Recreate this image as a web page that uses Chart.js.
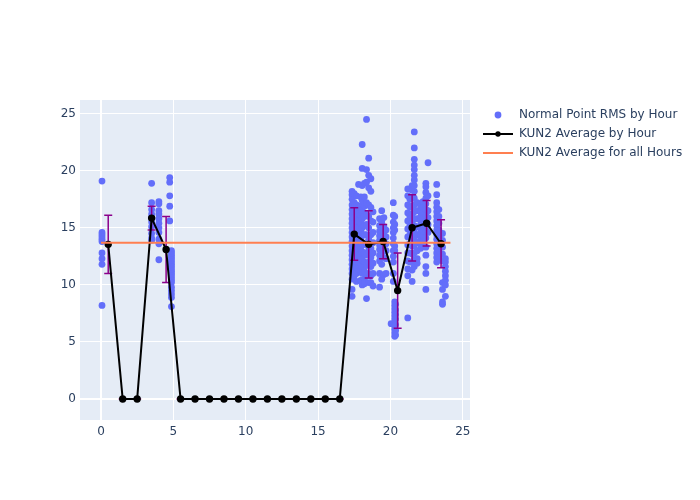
<!DOCTYPE html>
<html>
<head>
<meta charset="utf-8">
<script src="https://cdn.jsdelivr.net/npm/chart.js@4.4.1/dist/chart.umd.min.js"></script>
<style>
  body { margin: 0; background: #fff; }
  #wrap { position: relative; width: 700px; height: 500px; }
  #legend { position: absolute; left: 480px; top: 105px; font-family: "DejaVu Sans", sans-serif; font-size: 12px; color: #2a3f5f; }
  .item { position: relative; height: 19px; line-height: 19px; padding-left: 39px; white-space: nowrap; }
  .sym { position: absolute; left: 0; top: 0; width: 36px; height: 19px; }
</style>
</head>
<body>
<div id="wrap">
  <canvas id="myChart" width="700" height="500"></canvas>
  <div id="legend">
    <div class="item"><canvas class="sym" width="36" height="19" id="s1"></canvas>Normal Point RMS by Hour</div>
    <div class="item"><canvas class="sym" width="36" height="19" id="s2"></canvas>KUN2 Average by Hour</div>
    <div class="item"><canvas class="sym" width="36" height="19" id="s3"></canvas>KUN2 Average for all Hours</div>
  </div>
</div>
<script>
// normal point RMS, one column per entry: [hour, rms values...]
const rmsHour0 = [
    [0.07, 19.1, 14.6, 14.4, 14.2, 14.0, 13.8, 12.8, 12.3, 11.8, 8.2]
];
const rmsHour3 = [
    [3.5, 18.9, 17.2, 16.6, 16.2, 15.9, 15.5, 15.1, 14.5, 14.1, 13.9],
    [4.0, 17.3, 17.1, 16.5, 16.2, 15.8, 15.4, 15.0, 14.6, 14.0, 13.6, 12.2]
];
const rmsHour4 = [
    [4.75, 19.4, 19.0, 17.8, 16.9, 15.6],
    [4.87, 13.0, 12.8, 12.6, 12.4, 12.2, 12.0, 11.8, 11.6, 11.4, 11.2, 11.0, 10.8, 10.6, 10.4, 10.2, 9.8, 9.5, 9.2, 8.9, 8.1]
];
const rmsHour17 = [
    [17.35, 18.2, 17.9, 17.5, 17.0, 16.6, 16.2, 15.8, 15.4, 15.0, 14.6, 14.2, 13.8, 13.4, 13.0, 12.6, 12.2, 11.8, 11.4, 11.0, 10.5, 9.6, 9.0],
    [17.5, 18.0, 17.2, 16.4, 15.9, 15.3, 14.8, 14.3, 13.9, 13.5, 13.1, 12.7, 12.3, 11.9, 11.5, 10.8],
    [17.65, 17.8, 17.0, 16.5, 16.0, 15.5, 15.0, 14.5, 14.0, 13.5, 13.0, 12.5, 12.0, 11.5, 11.0, 10.3],
    [17.8, 18.8, 16.8, 16.2, 15.6, 15.0, 14.4, 13.8, 13.2, 12.6, 12.0, 11.2],
    [17.95, 17.7, 16.9, 16.1, 15.4, 14.7, 14.0, 13.3, 12.6, 11.9, 11.2, 10.4]
];
const rmsHour18 = [
    [18.05, 22.3, 20.2, 18.7, 17.4, 16.5, 15.8, 15.0, 14.3, 13.6, 12.9, 12.2, 11.6, 11.0, 10.4, 10.0],
    [18.2, 18.9, 17.7, 16.9, 16.0, 15.2, 14.4, 13.6, 12.8, 12.0, 11.2, 10.5, 10.1],
    [18.35, 24.5, 20.1, 19.0, 17.2, 16.2, 15.3, 14.4, 13.5, 12.6, 11.7, 10.8, 8.8],
    [18.5, 21.1, 19.6, 18.5, 17.0, 16.0, 15.0, 14.0, 13.0, 12.0, 11.0, 10.2],
    [18.65, 19.3, 18.2, 16.8, 15.6, 14.4, 13.2, 12.4, 11.6, 10.8, 10.2],
    [18.8, 16.4, 15.5, 14.6, 13.7, 12.8, 11.9, 11.0, 9.9]
];
const rmsHour19 = [
    [19.25, 15.8, 15.2, 14.7, 14.3, 13.9, 13.5, 13.1, 12.6, 12.1, 11.0, 9.8],
    [19.4, 16.5, 15.5, 15.0, 14.6, 14.2, 13.8, 13.4, 13.0, 12.5, 11.8, 10.5],
    [19.55, 15.9, 15.1, 14.4, 13.7, 13.0, 12.4, 10.9],
    [19.7, 14.8, 14.2, 13.6, 13.0, 12.3, 11.0]
];
const rmsHour20 = [
    [20.05, 6.6],
    [20.2, 17.2, 16.1, 15.5, 15.0, 14.6, 14.1, 13.6, 13.0, 12.5, 12.0, 11.0, 10.3],
    [20.3, 16.0, 15.3, 14.8, 13.4, 13.0, 8.5, 8.2, 7.9, 7.6, 7.3, 7.0, 6.7, 6.4, 6.1, 5.8, 5.5],
    [20.36, 8.3, 7.8, 7.4, 7.0, 6.5, 6.0, 5.6]
];
const rmsHour21 = [
    [21.2, 18.4, 17.8, 17.0, 16.3, 15.6, 14.9, 14.2, 13.5, 12.8, 12.1, 11.4, 10.8, 7.1],
    [21.35, 17.5, 16.8, 16.0, 15.2, 14.4, 13.6, 12.8, 12.0],
    [21.5, 18.7, 18.3, 17.6, 16.9, 16.2, 15.5, 14.8, 14.1, 13.4, 12.7, 12.0, 11.3, 10.3],
    [21.65, 23.4, 22.0, 21.0, 20.5, 20.1, 19.6, 19.2, 18.7, 18.2, 17.6, 17.0, 16.4, 15.8, 15.2, 14.6, 14.0, 13.4, 12.8, 12.2, 11.6],
    [21.85, 17.2, 16.5, 15.8, 15.1, 14.4, 13.7, 13.0, 12.3, 11.9]
];
const rmsHour22 = [
    [22.1, 16.9, 16.4, 16.0, 15.6, 15.2, 14.8, 14.4, 14.0, 13.6, 13.2],
    [22.25, 17.3, 16.8, 16.3, 15.8, 15.3, 14.8, 14.3, 13.8],
    [22.45, 18.9, 18.6, 18.1, 17.6, 17.1, 16.6, 16.1, 15.6, 15.1, 14.6, 14.1, 13.3, 12.6, 11.6, 11.0, 9.6],
    [22.6, 20.7, 17.8, 16.5, 15.9, 15.3, 14.6]
];
const rmsHour23 = [
    [23.2, 18.8, 17.9, 17.2, 16.8, 16.4, 16.0, 15.6, 15.2, 14.8, 14.4, 14.0, 13.6, 13.2, 12.8, 12.4, 12.0],
    [23.35, 16.6, 16.0, 15.4, 14.8, 14.2, 13.6, 13.0, 12.4],
    [23.6, 14.5, 13.9, 13.3, 12.7, 12.1, 10.2, 9.6, 8.5, 8.3],
    [23.8, 12.3, 12.0, 11.6, 11.2, 10.8, 10.4, 10.0, 9.0]
];

// hourly averages and their spread
const avgHours = [0.5, 1.5, 2.5, 3.5, 4.5, 5.5, 6.5, 7.5, 8.5, 9.5, 10.5, 11.5, 12.5, 13.5, 14.5, 15.5, 16.5, 17.5, 18.5, 19.5, 20.5, 21.5, 22.5, 23.5];
const avgValues = [13.55, 0, 0, 15.85, 13.1, 0, 0, 0, 0, 0, 0, 0, 0, 0, 0, 0, 0, 14.45, 13.55, 13.8, 9.5, 15.0, 15.4, 13.6];
const avgErrors = [2.55, 0, 0, 1.05, 2.9, 0, 0, 0, 0, 0, 0, 0, 0, 0, 0, 0, 0, 2.3, 2.95, 1.5, 3.3, 2.9, 2.0, 2.1];

const overallX = [0, 24.15];
const overallAvg = 13.7;

const xTicks = [0, 5, 10, 15, 20, 25];
const yTicks = [0, 5, 10, 15, 20, 25];

const allColumns = [].concat(rmsHour0, rmsHour3, rmsHour4, rmsHour17, rmsHour18, rmsHour19, rmsHour20, rmsHour21, rmsHour22, rmsHour23);
const rmsPoints = [];
allColumns.forEach(col => {
    for (let i = 1; i < col.length; i++) rmsPoints.push({ x: col[0], y: col[i] });
});

const plotBg = {
    id: 'plotBg',
    beforeDraw(chart) {
        const a = chart.chartArea, c = chart.ctx;
        c.save();
        c.fillStyle = '#e5ecf6';
        c.fillRect(a.left, a.top, a.right - a.left, a.bottom - a.top);
        c.restore();
    }
};

const errorBars = {
    id: 'errorBars',
    beforeDatasetDraw(chart, args) {
        if (args.index !== 1) return;
        const c = chart.ctx, xs = chart.scales.x, ys = chart.scales.y;
        c.save();
        c.strokeStyle = '#8b008b';
        c.lineWidth = 1.5;
        avgHours.forEach((h, i) => {
            const px = xs.getPixelForValue(h);
            const top = ys.getPixelForValue(avgValues[i] + avgErrors[i]);
            const bot = ys.getPixelForValue(avgValues[i] - avgErrors[i]);
            c.beginPath();
            c.moveTo(px, top); c.lineTo(px, bot);
            c.moveTo(px - 4, top); c.lineTo(px + 4, top);
            c.moveTo(px - 4, bot); c.lineTo(px + 4, bot);
            c.stroke();
        });
        c.restore();
    }
};

const tickFont = { family: '"DejaVu Sans", sans-serif', size: 12 };

const ctx = document.getElementById('myChart').getContext('2d');
const myChart = new Chart(ctx, {
    type: 'scatter',
    data: {
        datasets: [{
            label: 'Normal Point RMS by Hour',
            data: rmsPoints,
            backgroundColor: '#636efa',
            borderWidth: 0,
            pointRadius: 3.4,
            order: 3
        }, {
            label: 'KUN2 Average by Hour',
            data: avgHours.map((h, i) => ({ x: h, y: avgValues[i] })),
            showLine: true,
            borderColor: '#000',
            backgroundColor: '#000',
            borderWidth: 2,
            pointRadius: 2.7,
            order: 2
        }, {
            label: 'KUN2 Average for all Hours',
            data: overallX.map(x => ({ x: x, y: overallAvg })),
            showLine: true,
            borderColor: '#ff7f50',
            borderWidth: 2,
            pointRadius: 0,
            order: 1
        }]
    },
    options: {
        responsive: false,
        animation: false,
        layout: { padding: { left: 0, right: 230, top: 100, bottom: 0 } },
        plugins: { legend: { display: false }, tooltip: { enabled: false } },
        scales: {
            x: {
                type: 'linear',
                min: -1.45,
                max: 25.5,
                afterBuildTicks: s => { s.ticks = xTicks.map(v => ({ value: v })); },
                afterFit: s => { s.height = 80; },
                border: { display: false },
                grid: { color: '#fff', lineWidth: c => c.tick && c.tick.value === 0 ? 2 : 1, drawTicks: false },
                ticks: { color: '#2a3f5f', font: tickFont, padding: 5 }
            },
            y: {
                min: -1.84,
                max: 26.2,
                afterBuildTicks: s => { s.ticks = yTicks.map(v => ({ value: v })); },
                afterFit: s => { s.width = 80; },
                border: { display: false },
                grid: { color: '#fff', lineWidth: c => c.tick && c.tick.value === 0 ? 2 : 1, drawTicks: false },
                ticks: { color: '#2a3f5f', font: tickFont, padding: 4 }
            }
        }
    },
    plugins: [plotBg, errorBars]
});

// legend symbols
function sym(id, draw) {
    const c = document.getElementById(id).getContext('2d');
    draw(c);
}
sym('s1', c => { c.fillStyle = '#636efa'; c.beginPath(); c.arc(18, 10, 3.4, 0, Math.PI * 2); c.fill(); });
sym('s2', c => {
    c.strokeStyle = '#000'; c.lineWidth = 2;
    c.beginPath(); c.moveTo(3, 10); c.lineTo(33, 10); c.stroke();
    c.fillStyle = '#000'; c.beginPath(); c.arc(18, 10, 2.7, 0, Math.PI * 2); c.fill();
});
sym('s3', c => { c.strokeStyle = '#ff7f50'; c.lineWidth = 2; c.beginPath(); c.moveTo(3, 10); c.lineTo(33, 10); c.stroke(); });
</script>
</body>
</html>
